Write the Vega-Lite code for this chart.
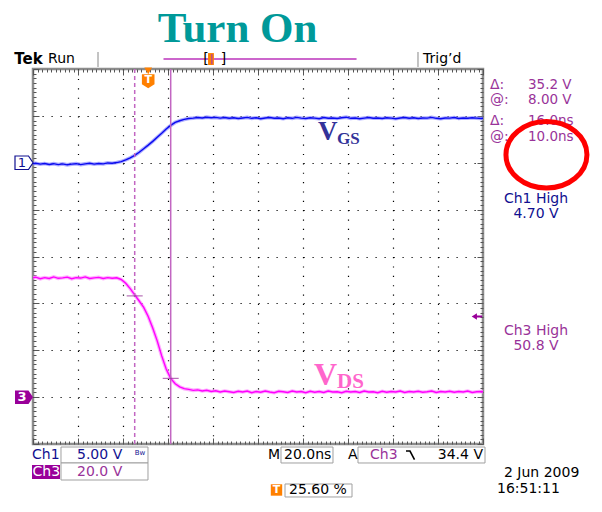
{
"$schema": "https://vega.github.io/schema/vega-lite/v6.json",
"width": 450, "height": 375,
"autosize": "none",
"padding": {"left": 33, "top": 69, "right": 119, "bottom": 68},
"background": "white",
"config": {"view": {"stroke": "#8c8c8c", "strokeWidth": 2.5}, "text": {"font": "DejaVu Sans"}},
"data": {"values": [
{"t":-52,"ch1":-0.12,"ch3":50.8},{"t":-50,"ch1":-0.05,"ch3":51.2},{"t":-48,"ch1":-0.15,"ch3":50.5},{"t":-46,"ch1":-0.08,"ch3":51.0},{"t":-44,"ch1":-0.18,"ch3":50.6},{"t":-42,"ch1":-0.1,"ch3":51.3},{"t":-40,"ch1":-0.2,"ch3":50.7},{"t":-38,"ch1":-0.12,"ch3":50.9},{"t":-36,"ch1":-0.22,"ch3":51.2},{"t":-34,"ch1":-0.15,"ch3":50.5},{"t":-32,"ch1":-0.1,"ch3":51.0},{"t":-30,"ch1":-0.2,"ch3":50.8},{"t":-28,"ch1":-0.12,"ch3":51.3},{"t":-26,"ch1":-0.05,"ch3":50.6},{"t":-24,"ch1":-0.15,"ch3":50.9},{"t":-22,"ch1":-0.08,"ch3":51.1},{"t":-20,"ch1":-0.12,"ch3":50.6},{"t":-18,"ch1":-0.02,"ch3":51.0},{"t":-16,"ch1":-0.06,"ch3":50.7},{"t":-14,"ch1":0.02,"ch3":50.9},{"t":-12,"ch1":0.12,"ch3":50.2},{"t":-10,"ch1":0.3,"ch3":48.6},{"t":-8,"ch1":0.52,"ch3":46.3},{"t":-6,"ch1":0.78,"ch3":43.6},{"t":-4,"ch1":1.12,"ch3":41.0},{"t":-2,"ch1":1.5,"ch3":38.3},{"t":0,"ch1":1.88,"ch3":34.4},{"t":2,"ch1":2.28,"ch3":29.5},{"t":4,"ch1":2.72,"ch3":24.0},{"t":6,"ch1":3.15,"ch3":17.6},{"t":8,"ch1":3.6,"ch3":12.0},{"t":10,"ch1":3.98,"ch3":8.0},{"t":12,"ch1":4.3,"ch3":5.7},{"t":14,"ch1":4.48,"ch3":4.4},{"t":16,"ch1":4.62,"ch3":3.6},{"t":18,"ch1":4.72,"ch3":3.3},{"t":20,"ch1":4.76,"ch3":2.9},{"t":22,"ch1":4.82,"ch3":3.1},{"t":24,"ch1":4.78,"ch3":2.6},{"t":26,"ch1":4.86,"ch3":2.9},{"t":28,"ch1":4.8,"ch3":2.4},{"t":30,"ch1":4.84,"ch3":2.7},{"t":32,"ch1":4.76,"ch3":2.2},{"t":34,"ch1":4.82,"ch3":2.6},{"t":36,"ch1":4.74,"ch3":2.3},{"t":38,"ch1":4.8,"ch3":2.0},{"t":40,"ch1":4.72,"ch3":2.5},{"t":42,"ch1":4.78,"ch3":2.2},{"t":44,"ch1":4.84,"ch3":2.6},{"t":46,"ch1":4.74,"ch3":1.9},{"t":48,"ch1":4.8,"ch3":2.4},{"t":50,"ch1":4.7,"ch3":2.1},{"t":52,"ch1":4.78,"ch3":2.6},{"t":54,"ch1":4.82,"ch3":2.2},{"t":56,"ch1":4.74,"ch3":1.9},{"t":58,"ch1":4.78,"ch3":2.5},{"t":60,"ch1":4.7,"ch3":2.3},{"t":62,"ch1":4.8,"ch3":2.0},{"t":64,"ch1":4.74,"ch3":2.6},{"t":66,"ch1":4.84,"ch3":2.2},{"t":68,"ch1":4.76,"ch3":2.4},{"t":70,"ch1":4.72,"ch3":1.9},{"t":72,"ch1":4.8,"ch3":2.5},{"t":74,"ch1":4.76,"ch3":2.1},{"t":76,"ch1":4.7,"ch3":2.4},{"t":78,"ch1":4.82,"ch3":2.0},{"t":80,"ch1":4.74,"ch3":2.6},{"t":82,"ch1":4.78,"ch3":2.2},{"t":84,"ch1":4.72,"ch3":2.3},{"t":86,"ch1":4.8,"ch3":1.9},{"t":88,"ch1":4.86,"ch3":2.5},{"t":90,"ch1":4.74,"ch3":2.2},{"t":92,"ch1":4.78,"ch3":2.4},{"t":94,"ch1":4.7,"ch3":2.0},{"t":96,"ch1":4.76,"ch3":2.6},{"t":98,"ch1":4.82,"ch3":2.2},{"t":100,"ch1":4.74,"ch3":2.3},{"t":102,"ch1":4.78,"ch3":1.9},{"t":104,"ch1":4.72,"ch3":2.5},{"t":106,"ch1":4.8,"ch3":2.1},{"t":108,"ch1":4.76,"ch3":2.4},{"t":110,"ch1":4.7,"ch3":2.2},{"t":112,"ch1":4.78,"ch3":2.6},{"t":114,"ch1":4.82,"ch3":2.0},{"t":116,"ch1":4.74,"ch3":2.4},{"t":118,"ch1":4.8,"ch3":2.2},{"t":120,"ch1":4.72,"ch3":2.5},{"t":122,"ch1":4.78,"ch3":2.1},{"t":124,"ch1":4.76,"ch3":2.3},{"t":126,"ch1":4.84,"ch3":2.6},{"t":128,"ch1":4.74,"ch3":2.0},{"t":130,"ch1":4.7,"ch3":2.4},{"t":132,"ch1":4.78,"ch3":2.2},{"t":134,"ch1":4.76,"ch3":2.5},{"t":136,"ch1":4.82,"ch3":2.1},{"t":138,"ch1":4.72,"ch3":2.4},{"t":140,"ch1":4.78,"ch3":2.2},{"t":142,"ch1":4.74,"ch3":2.6},{"t":144,"ch1":4.8,"ch3":2.0},{"t":146,"ch1":4.76,"ch3":2.3},{"t":148,"ch1":4.72,"ch3":2.4},{"t":150,"ch1":4.78,"ch3":2.2}
]},
"resolve": {"scale": {"y": "independent"}, "axis": {"x": "independent", "y": "independent"}},
"layer": [
{"mark": {"type": "line", "color": "#8c8cff", "strokeWidth": 3.6, "opacity": 0.7, "clip": true},
 "encoding": {
  "x": {"field": "t", "type": "quantitative", "scale": {"domain": [-51.2, 148.8], "nice": false, "zero": false},
        "axis": {"orient": "bottom", "values": [-31.2,-11.2,8.8,28.8,48.8,68.8,88.8,108.8,128.8], "grid": true, "gridColor": "#000000", "gridDash": [1.2, 8.175], "gridWidth": 1.2, "ticks": false, "labels": false, "domain": false, "title": null}},
  "y": {"field": "ch1", "type": "quantitative", "scale": {"domain": [-30, 10], "nice": false, "zero": false},
        "axis": {"orient": "left", "values": [-25,-20,-15,-10,-5,0,5], "grid": true, "gridColor": "#000000", "gridDash": [1.2, 7.8], "gridWidth": 1.2, "ticks": false, "labels": false, "domain": false, "title": null}}}},
{"mark": {"type": "line", "color": "#0a0af0", "strokeWidth": 1.4, "clip": true},
 "encoding": {
  "x": {"field": "t", "type": "quantitative", "scale": {"domain": [-51.2, 148.8], "nice": false, "zero": false}, "axis": null},
  "y": {"field": "ch1", "type": "quantitative", "scale": {"domain": [-30, 10], "nice": false, "zero": false}, "axis": null}}},
{"mark": {"type": "line", "color": "#ff8cff", "strokeWidth": 3.6, "opacity": 0.7, "clip": true},
 "encoding": {
  "x": {"field": "t", "type": "quantitative", "scale": {"domain": [-51.2, 148.8], "nice": false, "zero": false},
        "axis": {"orient": "top", "values": [-51.2,-49.2,-47.2,-45.2,-43.2,-41.2,-39.2,-37.2,-35.2,-33.2,-31.2,-29.2,-27.2,-25.2,-23.2,-21.2,-19.2,-17.2,-15.2,-13.2,-11.2,-9.2,-7.2,-5.2,-3.2,-1.2,0.8,2.8,4.8,6.8,8.8,10.8,12.8,14.8,16.8,18.8,20.8,22.8,24.8,26.8,28.8,30.8,32.8,34.8,36.8,38.8,40.8,42.8,44.8,46.8,48.8,50.8,52.8,54.8,56.8,58.8,60.8,62.8,64.8,66.8,68.8,70.8,72.8,74.8,76.8,78.8,80.8,82.8,84.8,86.8,88.8,90.8,92.8,94.8,96.8,98.8,100.8,102.8,104.8,106.8,108.8,110.8,112.8,114.8,116.8,118.8,120.8,122.8,124.8,126.8,128.8,130.8,132.8,134.8,136.8,138.8,140.8,142.8,144.8,146.8,148.8],
                 "ticks": true, "tickSize": {"condition": {"test": "abs((datum.value+51.2)/20-round((datum.value+51.2)/20))<0.01", "value": -6}, "value": -3}, "tickColor": "#555555", "tickWidth": 1, "labels": false, "domain": false, "grid": false, "title": null}},
  "y": {"field": "ch3", "type": "quantitative", "scale": {"domain": [-20, 140], "nice": false, "zero": false},
        "axis": {"orient": "right", "values": [-20,-18,-16,-14,-12,-10,-8,-6,-4,-2,0,2,4,6,8,10,12,14,16,18,20,22,24,26,28,30,32,34,36,38,40,42,44,46,48,50,52,54,56,58,60,62,64,66,68,70,72,74,76,78,80,82,84,86,88,90,92,94,96,98,100,102,104,106,108,110,112,114,116,118,120,122,124,126,128,130,132,134,136,138,140],
                 "ticks": true, "tickSize": {"condition": {"test": "datum.value % 20 == 0", "value": -6}, "value": -3}, "tickColor": "#555555", "tickWidth": 1, "labels": false, "domain": false, "grid": false, "title": null}}}},
{"mark": {"type": "line", "color": "#ff00ff", "strokeWidth": 1.4, "clip": true},
 "encoding": {
  "x": {"field": "t", "type": "quantitative", "scale": {"domain": [-51.2, 148.8], "nice": false, "zero": false},
        "axis": {"orient": "bottom", "values": [-51.2,-49.2,-47.2,-45.2,-43.2,-41.2,-39.2,-37.2,-35.2,-33.2,-31.2,-29.2,-27.2,-25.2,-23.2,-21.2,-19.2,-17.2,-15.2,-13.2,-11.2,-9.2,-7.2,-5.2,-3.2,-1.2,0.8,2.8,4.8,6.8,8.8,10.8,12.8,14.8,16.8,18.8,20.8,22.8,24.8,26.8,28.8,30.8,32.8,34.8,36.8,38.8,40.8,42.8,44.8,46.8,48.8,50.8,52.8,54.8,56.8,58.8,60.8,62.8,64.8,66.8,68.8,70.8,72.8,74.8,76.8,78.8,80.8,82.8,84.8,86.8,88.8,90.8,92.8,94.8,96.8,98.8,100.8,102.8,104.8,106.8,108.8,110.8,112.8,114.8,116.8,118.8,120.8,122.8,124.8,126.8,128.8,130.8,132.8,134.8,136.8,138.8,140.8,142.8,144.8,146.8,148.8],
                 "ticks": true, "tickSize": {"condition": {"test": "abs((datum.value+51.2)/20-round((datum.value+51.2)/20))<0.01", "value": -6}, "value": -3}, "tickColor": "#555555", "tickWidth": 1, "labels": false, "domain": false, "grid": false, "title": null}},
  "y": {"field": "ch3", "type": "quantitative", "scale": {"domain": [-20, 140], "nice": false, "zero": false},
        "axis": {"orient": "left", "values": [-20,-18,-16,-14,-12,-10,-8,-6,-4,-2,0,2,4,6,8,10,12,14,16,18,20,22,24,26,28,30,32,34,36,38,40,42,44,46,48,50,52,54,56,58,60,62,64,66,68,70,72,74,76,78,80,82,84,86,88,90,92,94,96,98,100,102,104,106,108,110,112,114,116,118,120,122,124,126,128,130,132,134,136,138,140],
                 "ticks": true, "tickSize": {"condition": {"test": "datum.value % 20 == 0", "value": -6}, "value": -3}, "tickColor": "#555555", "tickWidth": 1, "labels": false, "domain": false, "grid": false, "title": null}}}},
{"data": {"values": [{"cursor": "1", "t": -6}, {"cursor": "2", "t": 10}]},
 "mark": {"type": "rule", "color": "#c266c2", "strokeWidth": 1.5},
 "encoding": {
  "x": {"field": "t", "type": "quantitative", "scale": {"domain": [-51.2, 148.8], "nice": false, "zero": false}, "axis": null},
  "strokeDash": {"field": "cursor", "type": "nominal", "scale": {"domain": ["1", "2"], "range": [[4, 3], [1, 0]]}, "legend": null}}},
{"data": {"values": [{"cursor": "1", "t": -6, "v": 43.2}, {"cursor": "2", "t": 10, "v": 8.0}]},
 "mark": {"type": "tick", "orient": "horizontal", "thickness": 1.2, "size": 16, "color": "#993399"},
 "encoding": {
  "x": {"field": "t", "type": "quantitative", "scale": {"domain": [-51.2, 148.8], "nice": false, "zero": false}, "axis": null},
  "y": {"field": "v", "type": "quantitative", "scale": {"domain": [-20, 140], "nice": false, "zero": false}, "axis": null}}},
{"data": {"values": [{}]}, "mark": {"type": "text", "text": "Turn On", "font": "Liberation Serif", "fontWeight": "bold", "fontSize": 43, "color": "#009999", "align": "center", "baseline": "alphabetic"},
 "encoding": {"x": {"datum": 39.7, "scale": {"domain": [-51.2, 148.8], "nice": false, "zero": false}, "axis": null}, "y": {"datum": 4.576, "scale": {"domain": [-4, 4], "nice": false, "zero": false}, "axis": null}}},
{"data": {"values": [{}]}, "mark": {"type": "text", "text": "Tek", "fontWeight": "bold", "fontSize": 15, "color": "#000000", "align": "left", "baseline": "middle"},
 "encoding": {"x": {"datum": -59.5, "scale": {"domain": [-51.2, 148.8], "nice": false, "zero": false}, "axis": null}, "y": {"datum": 4.213, "scale": {"domain": [-4, 4], "nice": false, "zero": false}, "axis": null}}},
{"data": {"values": [{}]}, "mark": {"type": "text", "text": "Run", "fontSize": 14, "color": "#000000", "align": "left", "baseline": "middle"},
 "encoding": {"x": {"datum": -44.5, "scale": {"domain": [-51.2, 148.8], "nice": false, "zero": false}, "axis": null}, "y": {"datum": 4.213, "scale": {"domain": [-4, 4], "nice": false, "zero": false}, "axis": null}}},
{"data": {"values": [{}]}, "mark": {"type": "rule", "color": "#888888", "strokeWidth": 1},
 "encoding": {"x": {"datum": -22.31, "scale": {"domain": [-51.2, 148.8], "nice": false, "zero": false}, "axis": null}, "y": {"datum": 4.363, "scale": {"domain": [-4, 4], "nice": false, "zero": false}, "axis": null}, "y2": {"datum": 4.043}}},
{"data": {"values": [{}]}, "mark": {"type": "rule", "color": "#888888", "strokeWidth": 1},
 "encoding": {"x": {"datum": 119.91, "scale": {"domain": [-51.2, 148.8], "nice": false, "zero": false}, "axis": null}, "y": {"datum": 4.363, "scale": {"domain": [-4, 4], "nice": false, "zero": false}, "axis": null}, "y2": {"datum": 4.043}}},
{"data": {"values": [{}]}, "mark": {"type": "rule", "color": "#cc66cc", "strokeWidth": 2},
 "encoding": {"x": {"datum": 6.8, "scale": {"domain": [-51.2, 148.8], "nice": false, "zero": false}, "axis": null}, "x2": {"datum": 92.6}, "y": {"datum": 4.213, "scale": {"domain": [-4, 4], "nice": false, "zero": false}, "axis": null}}},
{"data": {"values": [{}]}, "mark": {"type": "rect", "color": "#ff8000"},
 "encoding": {"x": {"datum": 26.6, "scale": {"domain": [-51.2, 148.8], "nice": false, "zero": false}, "axis": null}, "x2": {"datum": 29.2}, "y": {"datum": 4.34, "scale": {"domain": [-4, 4], "nice": false, "zero": false}, "axis": null}, "y2": {"datum": 4.085}}},
{"data": {"values": [{}]}, "mark": {"type": "rule", "color": "#9933cc", "strokeWidth": 1},
 "encoding": {"x": {"datum": 28.3, "scale": {"domain": [-51.2, 148.8], "nice": false, "zero": false}, "axis": null}, "y": {"datum": 4.32, "scale": {"domain": [-4, 4], "nice": false, "zero": false}, "axis": null}, "y2": {"datum": 4.1}}},
{"data": {"values": [{}]}, "mark": {"type": "text", "text": "[", "fontSize": 14, "color": "#000000", "align": "center", "baseline": "middle"},
 "encoding": {"x": {"datum": 25.7, "scale": {"domain": [-51.2, 148.8], "nice": false, "zero": false}, "axis": null}, "y": {"datum": 4.213, "scale": {"domain": [-4, 4], "nice": false, "zero": false}, "axis": null}}},
{"data": {"values": [{}]}, "mark": {"type": "text", "text": "]", "fontSize": 14, "color": "#000000", "align": "center", "baseline": "middle"},
 "encoding": {"x": {"datum": 33.5, "scale": {"domain": [-51.2, 148.8], "nice": false, "zero": false}, "axis": null}, "y": {"datum": 4.213, "scale": {"domain": [-4, 4], "nice": false, "zero": false}, "axis": null}}},
{"data": {"values": [{}]}, "mark": {"type": "text", "text": "Trig’d", "fontSize": 14, "color": "#000000", "align": "left", "baseline": "middle"},
 "encoding": {"x": {"datum": 122.13, "scale": {"domain": [-51.2, 148.8], "nice": false, "zero": false}, "axis": null}, "y": {"datum": 4.213, "scale": {"domain": [-4, 4], "nice": false, "zero": false}, "axis": null}}},
{"data": {"values": [{}]}, "mark": {"type": "point", "shape": "triangle-down", "size": 60, "filled": true, "color": "#ff8000", "opacity": 1},
 "encoding": {"x": {"datum": 0, "scale": {"domain": [-51.2, 148.8], "nice": false, "zero": false}, "axis": null}, "y": {"datum": 3.96, "scale": {"domain": [-4, 4], "nice": false, "zero": false}, "axis": null}}},
{"data": {"values": [{}]}, "mark": {"type": "point", "shape": "M-0.9,-1L0.9,-1L0.9,0.45L0,1L-0.9,0.45Z", "size": 196, "filled": true, "color": "#ff8000", "opacity": 1},
 "encoding": {"x": {"datum": 0, "scale": {"domain": [-51.2, 148.8], "nice": false, "zero": false}, "axis": null}, "y": {"datum": 3.74, "scale": {"domain": [-4, 4], "nice": false, "zero": false}, "axis": null}}},
{"data": {"values": [{}]}, "mark": {"type": "text", "text": "T", "fontWeight": "bold", "fontSize": 11, "color": "#ffffff", "align": "center", "baseline": "middle"},
 "encoding": {"x": {"datum": 0, "scale": {"domain": [-51.2, 148.8], "nice": false, "zero": false}, "axis": null}, "y": {"datum": 3.77, "scale": {"domain": [-4, 4], "nice": false, "zero": false}, "axis": null}}},
{"data": {"values": [{}]}, "mark": {"type": "point", "shape": "M-1,-0.75L0.5,-0.75L1,0L0.5,0.75L-1,0.75Z", "size": 324, "filled": true, "color": "#ffffff", "stroke": "#101090", "strokeWidth": 1.2, "opacity": 1},
 "encoding": {"x": {"datum": -55.2, "scale": {"domain": [-51.2, 148.8], "nice": false, "zero": false}, "axis": null}, "y": {"datum": 2, "scale": {"domain": [-4, 4], "nice": false, "zero": false}, "axis": null}}},
{"data": {"values": [{}]}, "mark": {"type": "text", "text": "1", "fontSize": 13, "color": "#101090", "align": "center", "baseline": "middle"},
 "encoding": {"x": {"datum": -56.1, "scale": {"domain": [-51.2, 148.8], "nice": false, "zero": false}, "axis": null}, "y": {"datum": 2, "scale": {"domain": [-4, 4], "nice": false, "zero": false}, "axis": null}}},
{"data": {"values": [{}]}, "mark": {"type": "point", "shape": "M-1,-0.75L0.5,-0.75L1,0L0.5,0.75L-1,0.75Z", "size": 324, "filled": true, "color": "#990099", "opacity": 1},
 "encoding": {"x": {"datum": -55.2, "scale": {"domain": [-51.2, 148.8], "nice": false, "zero": false}, "axis": null}, "y": {"datum": -3, "scale": {"domain": [-4, 4], "nice": false, "zero": false}, "axis": null}}},
{"data": {"values": [{}]}, "mark": {"type": "text", "text": "3", "fontWeight": "bold", "fontSize": 13, "color": "#ffffff", "align": "center", "baseline": "middle"},
 "encoding": {"x": {"datum": -56.1, "scale": {"domain": [-51.2, 148.8], "nice": false, "zero": false}, "axis": null}, "y": {"datum": -3, "scale": {"domain": [-4, 4], "nice": false, "zero": false}, "axis": null}}},
{"data": {"values": [{}]}, "mark": {"type": "point", "shape": "M-1,0L0,-0.6L0,0.6Z M0,-0.18L1,-0.18L1,0.18L0,0.18Z", "size": 110, "filled": true, "color": "#990099", "opacity": 1},
 "encoding": {"x": {"datum": 146.1, "scale": {"domain": [-51.2, 148.8], "nice": false, "zero": false}, "axis": null}, "y": {"datum": -1.28, "scale": {"domain": [-4, 4], "nice": false, "zero": false}, "axis": null}}},
{"data": {"values": [{}]}, "mark": {"type": "text", "text": "V", "font": "Liberation Serif", "fontWeight": "bold", "fontSize": 27, "color": "#333399", "align": "left", "baseline": "alphabetic"},
 "encoding": {"x": {"datum": 75.47, "scale": {"domain": [-51.2, 148.8], "nice": false, "zero": false}, "axis": null}, "y": {"datum": 2.485, "scale": {"domain": [-4, 4], "nice": false, "zero": false}, "axis": null}}},
{"data": {"values": [{}]}, "mark": {"type": "text", "text": "GS", "font": "Liberation Serif", "fontWeight": "bold", "fontSize": 17, "color": "#333399", "align": "left", "baseline": "alphabetic"},
 "encoding": {"x": {"datum": 83.91, "scale": {"domain": [-51.2, 148.8], "nice": false, "zero": false}, "axis": null}, "y": {"datum": 2.4, "scale": {"domain": [-4, 4], "nice": false, "zero": false}, "axis": null}}},
{"data": {"values": [{}]}, "mark": {"type": "text", "text": "V", "font": "Liberation Serif", "fontWeight": "bold", "fontSize": 32, "color": "#ff66cc", "align": "left", "baseline": "alphabetic"},
 "encoding": {"x": {"datum": 73.69, "scale": {"domain": [-51.2, 148.8], "nice": false, "zero": false}, "axis": null}, "y": {"datum": -2.741, "scale": {"domain": [-4, 4], "nice": false, "zero": false}, "axis": null}}},
{"data": {"values": [{}]}, "mark": {"type": "text", "text": "DS", "font": "Liberation Serif", "fontWeight": "bold", "fontSize": 21, "color": "#ff66cc", "align": "left", "baseline": "alphabetic"},
 "encoding": {"x": {"datum": 83.91, "scale": {"domain": [-51.2, 148.8], "nice": false, "zero": false}, "axis": null}, "y": {"datum": -2.805, "scale": {"domain": [-4, 4], "nice": false, "zero": false}, "axis": null}}},
{"data": {"values": [{}]}, "mark": {"type": "text", "text": ["Δ:", "@:"], "lineHeight": 15, "fontSize": 14, "color": "#993399", "align": "left", "baseline": "middle"},
 "encoding": {"x": {"datum": 151.91, "scale": {"domain": [-51.2, 148.8], "nice": false, "zero": false}, "axis": null}, "y": {"datum": 3.669, "scale": {"domain": [-4, 4], "nice": false, "zero": false}, "axis": null}}},
{"data": {"values": [{}]}, "mark": {"type": "text", "text": ["35.2 V", "8.00 V"], "lineHeight": 15, "fontSize": 13.5, "color": "#993399", "align": "left", "baseline": "middle"},
 "encoding": {"x": {"datum": 168.8, "scale": {"domain": [-51.2, 148.8], "nice": false, "zero": false}, "axis": null}, "y": {"datum": 3.669, "scale": {"domain": [-4, 4], "nice": false, "zero": false}, "axis": null}}},
{"data": {"values": [{}]}, "mark": {"type": "text", "text": ["Δ:", "@:"], "lineHeight": 16, "fontSize": 14, "color": "#993399", "align": "left", "baseline": "middle"},
 "encoding": {"x": {"datum": 151.91, "scale": {"domain": [-51.2, 148.8], "nice": false, "zero": false}, "axis": null}, "y": {"datum": 2.891, "scale": {"domain": [-4, 4], "nice": false, "zero": false}, "axis": null}}},
{"data": {"values": [{}]}, "mark": {"type": "text", "text": ["16.0ns", "10.0ns"], "lineHeight": 16, "fontSize": 13.5, "color": "#993399", "align": "left", "baseline": "middle"},
 "encoding": {"x": {"datum": 168.8, "scale": {"domain": [-51.2, 148.8], "nice": false, "zero": false}, "axis": null}, "y": {"datum": 2.891, "scale": {"domain": [-4, 4], "nice": false, "zero": false}, "axis": null}}},
{"data": {"values": [{}]}, "mark": {"type": "text", "text": ["Ch1 High", "4.70 V"], "lineHeight": 15, "fontSize": 14, "color": "#101090", "align": "center", "baseline": "middle"},
 "encoding": {"x": {"datum": 172.36, "scale": {"domain": [-51.2, 148.8], "nice": false, "zero": false}, "axis": null}, "y": {"datum": 1.237, "scale": {"domain": [-4, 4], "nice": false, "zero": false}, "axis": null}}},
{"data": {"values": [{}]}, "mark": {"type": "text", "text": ["Ch3 High", "50.8 V"], "lineHeight": 15, "fontSize": 14, "color": "#993399", "align": "center", "baseline": "middle"},
 "encoding": {"x": {"datum": 172.36, "scale": {"domain": [-51.2, 148.8], "nice": false, "zero": false}, "axis": null}, "y": {"datum": -1.579, "scale": {"domain": [-4, 4], "nice": false, "zero": false}, "axis": null}}},
{"data": {"values": [{}]}, "mark": {"type": "point", "shape": "M-1,0A1,0.82,0,1,0,1,0A1,0.82,0,1,0,-1,0Z", "size": 6561, "filled": false, "stroke": "#ff0000", "strokeWidth": 5, "opacity": 1},
 "encoding": {"x": {"datum": 177.0, "scale": {"domain": [-51.2, 148.8], "nice": false, "zero": false}, "axis": null}, "y": {"datum": 2.17, "scale": {"domain": [-4, 4], "nice": false, "zero": false}, "axis": null}}},
{"data": {"values": [{}]}, "mark": {"type": "rect", "fill": "#ffffff", "stroke": "#a0a0a0", "strokeWidth": 1},
 "encoding": {"x": {"datum": -38.76, "scale": {"domain": [-51.2, 148.8], "nice": false, "zero": false}, "axis": null}, "x2": {"datum": -0.09}, "y": {"datum": -4.064, "scale": {"domain": [-4, 4], "nice": false, "zero": false}, "axis": null}, "y2": {"datum": -4.405}}},
{"data": {"values": [{}]}, "mark": {"type": "rect", "fill": "#ffffff", "stroke": "#a0a0a0", "strokeWidth": 1},
 "encoding": {"x": {"datum": -38.76, "scale": {"domain": [-51.2, 148.8], "nice": false, "zero": false}, "axis": null}, "x2": {"datum": -0.09}, "y": {"datum": -4.405, "scale": {"domain": [-4, 4], "nice": false, "zero": false}, "axis": null}, "y2": {"datum": -4.768}}},
{"data": {"values": [{}]}, "mark": {"type": "rect", "fill": "#990099"},
 "encoding": {"x": {"datum": -51.64, "scale": {"domain": [-51.2, 148.8], "nice": false, "zero": false}, "axis": null}, "x2": {"datum": -39.2}, "y": {"datum": -4.448, "scale": {"domain": [-4, 4], "nice": false, "zero": false}, "axis": null}, "y2": {"datum": -4.747}}},
{"data": {"values": [{}]}, "mark": {"type": "rect", "fill": "#ffffff", "stroke": "#a0a0a0", "strokeWidth": 1},
 "encoding": {"x": {"datum": 59.02, "scale": {"domain": [-51.2, 148.8], "nice": false, "zero": false}, "axis": null}, "x2": {"datum": 82.13}, "y": {"datum": -4.064, "scale": {"domain": [-4, 4], "nice": false, "zero": false}, "axis": null}, "y2": {"datum": -4.405}}},
{"data": {"values": [{}]}, "mark": {"type": "rect", "fill": "#ffffff", "stroke": "#a0a0a0", "strokeWidth": 1},
 "encoding": {"x": {"datum": 93.24, "scale": {"domain": [-51.2, 148.8], "nice": false, "zero": false}, "axis": null}, "x2": {"datum": 149.69}, "y": {"datum": -4.064, "scale": {"domain": [-4, 4], "nice": false, "zero": false}, "axis": null}, "y2": {"datum": -4.405}}},
{"data": {"values": [{}]}, "mark": {"type": "rect", "fill": "#ffffff", "stroke": "#a0a0a0", "strokeWidth": 1},
 "encoding": {"x": {"datum": 60.8, "scale": {"domain": [-51.2, 148.8], "nice": false, "zero": false}, "axis": null}, "x2": {"datum": 90.58}, "y": {"datum": -4.853, "scale": {"domain": [-4, 4], "nice": false, "zero": false}, "axis": null}, "y2": {"datum": -5.13}}},
{"data": {"values": [{}]}, "mark": {"type": "text", "text": "Ch1", "fontSize": 14, "color": "#101090", "align": "left", "baseline": "middle"},
 "encoding": {"x": {"datum": -51.64, "scale": {"domain": [-51.2, 148.8], "nice": false, "zero": false}, "axis": null}, "y": {"datum": -4.235, "scale": {"domain": [-4, 4], "nice": false, "zero": false}, "axis": null}}},
{"data": {"values": [{}]}, "mark": {"type": "text", "text": "5.00 V", "fontSize": 14, "color": "#101090", "align": "left", "baseline": "middle"},
 "encoding": {"x": {"datum": -31.64, "scale": {"domain": [-51.2, 148.8], "nice": false, "zero": false}, "axis": null}, "y": {"datum": -4.235, "scale": {"domain": [-4, 4], "nice": false, "zero": false}, "axis": null}}},
{"data": {"values": [{}]}, "mark": {"type": "text", "text": "Bw", "fontSize": 7, "color": "#101090", "align": "center", "baseline": "middle"},
 "encoding": {"x": {"datum": -3.64, "scale": {"domain": [-51.2, 148.8], "nice": false, "zero": false}, "axis": null}, "y": {"datum": -4.2, "scale": {"domain": [-4, 4], "nice": false, "zero": false}, "axis": null}}},
{"data": {"values": [{}]}, "mark": {"type": "text", "text": "Ch3", "fontSize": 14, "color": "#ffffff", "align": "left", "baseline": "middle"},
 "encoding": {"x": {"datum": -51.4, "scale": {"domain": [-51.2, 148.8], "nice": false, "zero": false}, "axis": null}, "y": {"datum": -4.597, "scale": {"domain": [-4, 4], "nice": false, "zero": false}, "axis": null}}},
{"data": {"values": [{}]}, "mark": {"type": "text", "text": "20.0 V", "fontSize": 14, "color": "#993399", "align": "left", "baseline": "middle"},
 "encoding": {"x": {"datum": -31.64, "scale": {"domain": [-51.2, 148.8], "nice": false, "zero": false}, "axis": null}, "y": {"datum": -4.597, "scale": {"domain": [-4, 4], "nice": false, "zero": false}, "axis": null}}},
{"data": {"values": [{}]}, "mark": {"type": "text", "text": "M", "fontSize": 14, "color": "#000000", "align": "left", "baseline": "middle"},
 "encoding": {"x": {"datum": 53.24, "scale": {"domain": [-51.2, 148.8], "nice": false, "zero": false}, "axis": null}, "y": {"datum": -4.235, "scale": {"domain": [-4, 4], "nice": false, "zero": false}, "axis": null}}},
{"data": {"values": [{}]}, "mark": {"type": "text", "text": "20.0ns", "fontSize": 14, "color": "#000000", "align": "left", "baseline": "middle"},
 "encoding": {"x": {"datum": 60.36, "scale": {"domain": [-51.2, 148.8], "nice": false, "zero": false}, "axis": null}, "y": {"datum": -4.235, "scale": {"domain": [-4, 4], "nice": false, "zero": false}, "axis": null}}},
{"data": {"values": [{}]}, "mark": {"type": "text", "text": "A", "fontSize": 14, "color": "#000000", "align": "left", "baseline": "middle"},
 "encoding": {"x": {"datum": 88.8, "scale": {"domain": [-51.2, 148.8], "nice": false, "zero": false}, "axis": null}, "y": {"datum": -4.235, "scale": {"domain": [-4, 4], "nice": false, "zero": false}, "axis": null}}},
{"data": {"values": [{}]}, "mark": {"type": "text", "text": "Ch3", "fontSize": 14, "color": "#993399", "align": "left", "baseline": "middle"},
 "encoding": {"x": {"datum": 98.58, "scale": {"domain": [-51.2, 148.8], "nice": false, "zero": false}, "axis": null}, "y": {"datum": -4.235, "scale": {"domain": [-4, 4], "nice": false, "zero": false}, "axis": null}}},
{"data": {"values": [{}]}, "mark": {"type": "point", "shape": "M-1,-0.8L-0.2,-0.8L0.7,0.9", "size": 100, "filled": false, "stroke": "#000000", "strokeWidth": 1.6, "opacity": 1},
 "encoding": {"x": {"datum": 116.8, "scale": {"domain": [-51.2, 148.8], "nice": false, "zero": false}, "axis": null}, "y": {"datum": -4.235, "scale": {"domain": [-4, 4], "nice": false, "zero": false}, "axis": null}}},
{"data": {"values": [{}]}, "mark": {"type": "text", "text": "34.4 V", "fontSize": 14, "color": "#000000", "align": "right", "baseline": "middle"},
 "encoding": {"x": {"datum": 148.8, "scale": {"domain": [-51.2, 148.8], "nice": false, "zero": false}, "axis": null}, "y": {"datum": -4.235, "scale": {"domain": [-4, 4], "nice": false, "zero": false}, "axis": null}}},
{"data": {"values": [{}]}, "mark": {"type": "text", "text": "2 Jun  2009", "fontSize": 14, "color": "#000000", "align": "left", "baseline": "middle"},
 "encoding": {"x": {"datum": 158.13, "scale": {"domain": [-51.2, 148.8], "nice": false, "zero": false}, "axis": null}, "y": {"datum": -4.619, "scale": {"domain": [-4, 4], "nice": false, "zero": false}, "axis": null}}},
{"data": {"values": [{}]}, "mark": {"type": "text", "text": "16:51:11", "fontSize": 14, "color": "#000000", "align": "left", "baseline": "middle"},
 "encoding": {"x": {"datum": 155.02, "scale": {"domain": [-51.2, 148.8], "nice": false, "zero": false}, "axis": null}, "y": {"datum": -4.96, "scale": {"domain": [-4, 4], "nice": false, "zero": false}, "axis": null}}},
{"data": {"values": [{}]}, "mark": {"type": "point", "shape": "square", "size": 130, "filled": true, "color": "#ff8000", "opacity": 1},
 "encoding": {"x": {"datum": 57.02, "scale": {"domain": [-51.2, 148.8], "nice": false, "zero": false}, "axis": null}, "y": {"datum": -4.981, "scale": {"domain": [-4, 4], "nice": false, "zero": false}, "axis": null}}},
{"data": {"values": [{}]}, "mark": {"type": "text", "text": "T", "fontWeight": "bold", "fontSize": 11, "color": "#ffffff", "align": "center", "baseline": "middle"},
 "encoding": {"x": {"datum": 57.02, "scale": {"domain": [-51.2, 148.8], "nice": false, "zero": false}, "axis": null}, "y": {"datum": -4.981, "scale": {"domain": [-4, 4], "nice": false, "zero": false}, "axis": null}}},
{"data": {"values": [{}]}, "mark": {"type": "text", "text": "25.60 %", "fontSize": 14, "color": "#000000", "align": "left", "baseline": "middle"},
 "encoding": {"x": {"datum": 62.58, "scale": {"domain": [-51.2, 148.8], "nice": false, "zero": false}, "axis": null}, "y": {"datum": -4.971, "scale": {"domain": [-4, 4], "nice": false, "zero": false}, "axis": null}}}
]
}
